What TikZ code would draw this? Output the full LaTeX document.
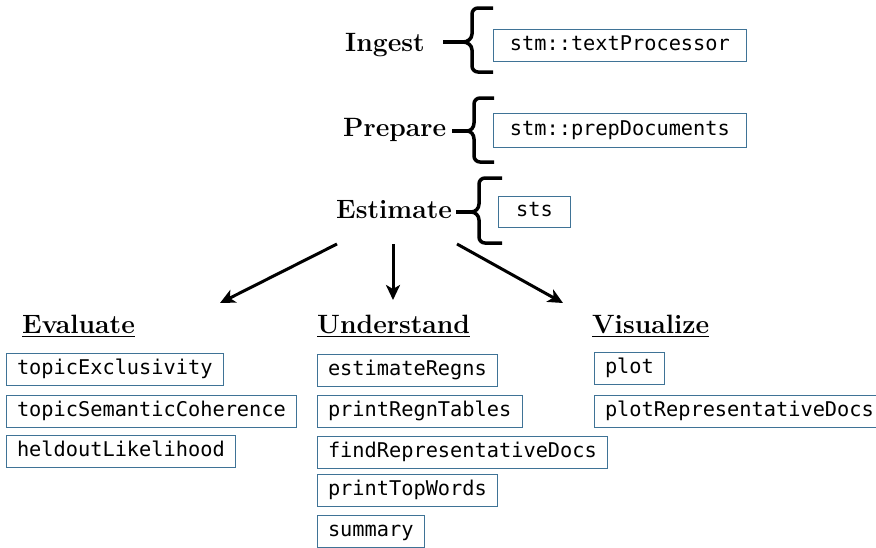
\documentclass[tikz,border=0pt]{standalone}
\usepackage{fontspec}
\setmonofont{DejaVu Sans Mono}
\usetikzlibrary{arrows.meta}
\definecolor{boxblue}{HTML}{3F7396}
\newcommand\mybrace[7]{%
  \coordinate (#1) at (#2,#3);
  \draw[bracestyle] (#7,#5) -- (#4+6,#5) to[out=180,in=90] (#4,#5+6) -- (#4,#3-8)
    to[out=-90,in=0] (#1) to[out=0,in=90] (#4,#3+8) -- (#4,#6-6)
    to[out=-90,in=180] (#4+6,#6) -- (#7,#6);}
\begin{document}
\begin{tikzpicture}[x=1pt,y=-1pt,
  head/.style={font=\fontsize{26.5}{32}\selectfont\bfseries, inner sep=0pt, anchor=base west},
  fn/.style={draw=boxblue, line width=0.8pt, font=\fontsize{20.3}{24}\ttfamily,
    inner xsep=10.6pt, inner ysep=0pt, text height=15pt, text depth=4.5pt,
    minimum height=32pt, anchor=west},
  bracestyle/.style={line width=3.5pt, line cap=butt, line join=round},
  dashline/.style={line width=3.5pt},
  arr/.style={line width=3pt, -{Stealth[length=15pt,width=14pt,inset=4pt]}},
  uline/.style={line width=1.8pt}]
\useasboundingbox (0,0) rectangle (876,547);

% top headings
\node[head] (ingest) at (345,51) {Ingest};
\node[head] (prepare) at (343,136) {Prepare};
\node[head] (estimate) at (336,218) {Estimate};

% braces
\mybrace{bi}{463}{42}{472}{8}{72}{493}
\mybrace{bp}{467}{131}{474}{98}{162}{494}
\mybrace{be}{471}{212}{479}{178}{243}{502}

\coordinate (di) at (443,42);
\coordinate (dp) at (452,131);
\coordinate (de) at (456,212);
\draw[dashline] (di) -- (bi);
\draw[dashline] (dp) -- (bp);
\draw[dashline] (de) -- (be);

% top boxes
\node[fn, minimum width=253pt] (tp) at (493,45.5) {stm::textProcessor};
\node[fn, minimum width=253pt, minimum height=34pt] (pd) at (493,130) {stm::prepDocuments};
\node[fn, minimum width=72pt, minimum height=31pt] (sts) at (498,211.5) {sts};

% arrows
\coordinate (a1s) at (337,244);
\coordinate (a1e) at (220,303);
\coordinate (a2s) at (393,244);
\coordinate (a2e) at (393,300);
\coordinate (a3s) at (457,244);
\coordinate (a3e) at (563,303);
\draw[arr] (a1s) -- (a1e);
\draw[arr] (a2s) -- (a2e);
\draw[arr] (a3s) -- (a3e);

% section headings
\node[head] (eval) at (22,333) {Evaluate};
\node[head] (und) at (317,333) {Understand};
\node[head] (vis) at (592,333) {Visualize};
\foreach \h in {eval,und,vis}
  \draw[uline] ([yshift=-3.5pt]\h.base west) -- ([yshift=-3.5pt]\h.base east);

% Evaluate
\node[fn] (te) at (6,369.5) {topicExclusivity};
\node[fn] (tsc) at (6,411) {topicSemanticCoherence};
\node[fn] (hl) at (6,451.5) {heldoutLikelihood};

% Understand
\node[fn] (er) at (317,370) {estimateRegns};
\node[fn] (prt) at (317,411) {printRegnTables};
\node[fn] (frd) at (317,452) {findRepresentativeDocs};
\node[fn] (ptw) at (317,490.5) {printTopWords};
\node[fn] (sm) at (317,531) {summary};

% Visualize
\node[fn] (pl) at (594,368.5) {plot};
\node[fn] (prd) at (594,411) {plotRepresentativeDocs};
\end{tikzpicture}
\end{document}
